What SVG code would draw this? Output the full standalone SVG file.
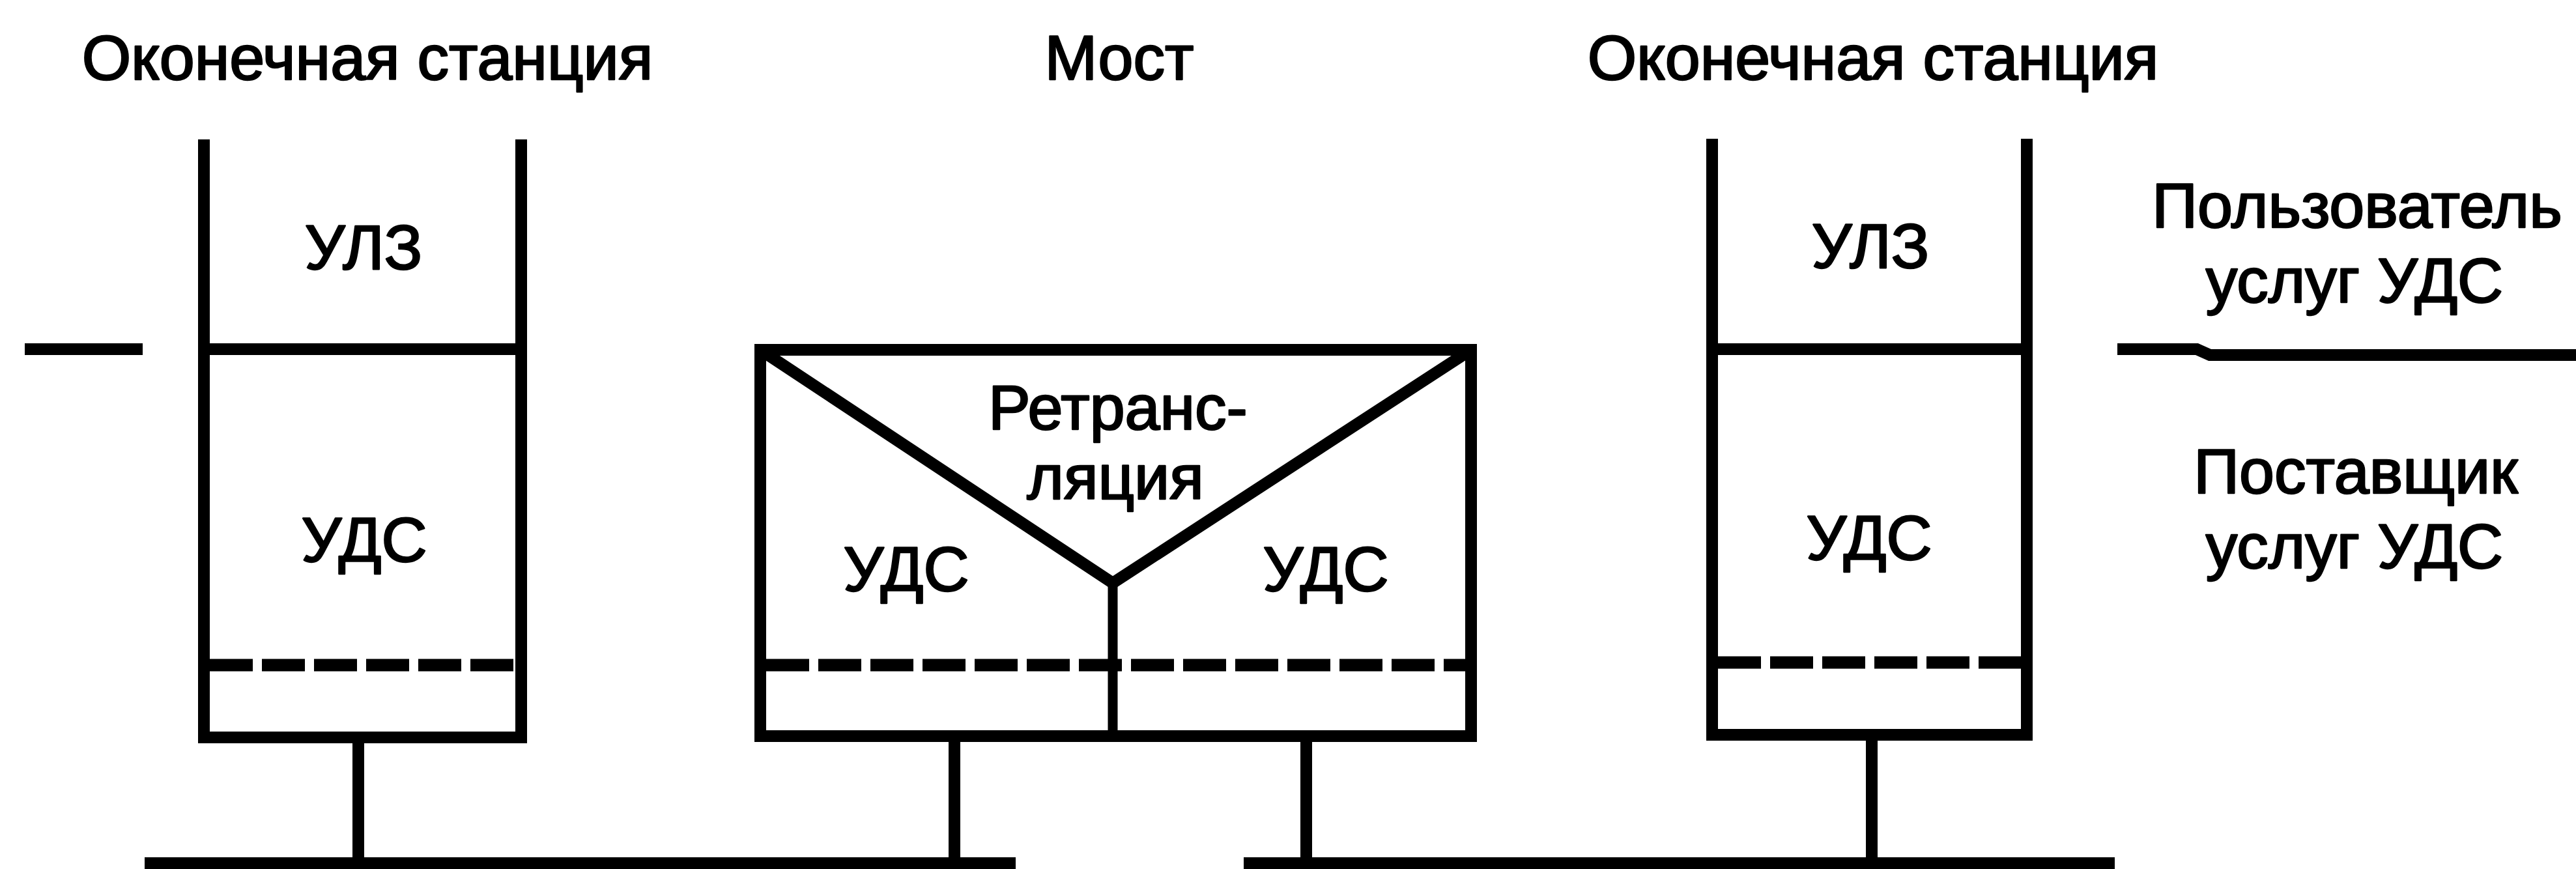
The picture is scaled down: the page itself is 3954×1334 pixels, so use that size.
<svg xmlns="http://www.w3.org/2000/svg" width="3954" height="1334" viewBox="0 0 3954 1334">
<style>
.ln{fill:none;stroke:#000;stroke-width:18;stroke-linejoin:miter;stroke-linecap:butt}
.thin{fill:none;stroke:#000;stroke-width:15}
.dash{fill:none;stroke:#000;stroke-width:19;stroke-dasharray:66 14}
.t{font-family:"Liberation Sans",Arial,sans-serif;font-size:97px;fill:#000;stroke:#000;stroke-width:2.5;stroke-linejoin:round;text-anchor:middle}
</style>
<rect width="3954" height="1334" fill="#fff"/>
<g id="titles">
<text class="t" x="564" y="122">Оконечная станция</text>
<text class="t" x="1718" y="122">Мост</text>
<text class="t" x="2875" y="122">Оконечная станция</text>
</g>
<g id="station-left">
<path class="ln" d="M313,214 V1132 H800 V214"/>
<path class="ln" d="M313,536 H800"/>
<path class="dash" d="M322,1021 H792"/>
<text class="t" x="558" y="413">УЛЗ</text>
<text class="t" x="559" y="862">УДС</text>
</g>
<g id="bridge">
<rect class="ln" x="1167" y="537" width="1091" height="593"/>
<path class="ln" d="M1167,537 L1708,895 L2258,537"/>
<path class="thin" d="M1708,895 V1130"/>
<path class="dash" d="M1176,1021 H2249"/>
<text class="t" x="1716" y="659">Ретранс-</text>
<text class="t" x="1712" y="766">ляция</text>
<text class="t" x="1391" y="907">УДС</text>
<text class="t" x="2035" y="907">УДС</text>
</g>
<g id="station-right">
<path class="ln" d="M2628,213 V1128 H3111 V213"/>
<path class="ln" d="M2628,536 H3111"/>
<path class="dash" d="M2637,1017 H3102"/>
<text class="t" x="2871" y="411">УЛЗ</text>
<text class="t" x="2869" y="859">УДС</text>
</g>
<g id="service-labels">
<text class="t" x="3618" y="349">Пользователь</text>
<text class="t" x="3614" y="464">услуг УДС</text>
<text class="t" x="3616" y="757">Поставщик</text>
<text class="t" x="3614" y="872">услуг УДС</text>
</g>
<g id="connectors">
<path class="ln" d="M550,1132 V1326"/>
<path class="ln" d="M1465,1130 V1326"/>
<path class="ln" d="M2005,1130 V1326"/>
<path class="ln" d="M2873,1128 V1326"/>
<path class="ln" d="M222,1325 H1559"/>
<path class="ln" d="M1909,1325 H3246"/>
<path class="ln" d="M38,536 H219"/>
<path class="ln" d="M3250,536 H3372 L3392,545 H3954"/>
</g>
</svg>
